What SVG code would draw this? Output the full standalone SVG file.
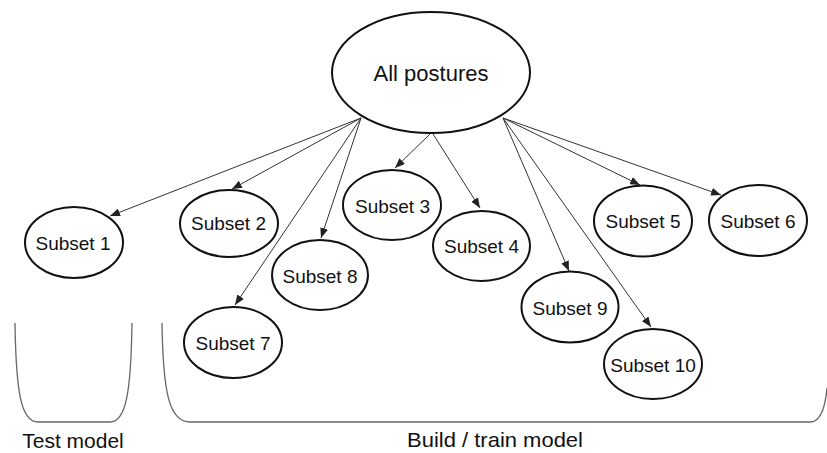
<svg xmlns="http://www.w3.org/2000/svg" width="827" height="453" viewBox="0 0 827 453">
  <style>
    .node ellipse { fill: #fff; stroke: #111; stroke-width: 2; }
    .node text { font-family: "Liberation Sans", Arial, sans-serif; font-size: 19px; fill: #111; text-anchor: middle; }
    .root text { font-size: 22px; }
    .edge { stroke: #333; stroke-width: 1; fill: none; marker-end: url(#arrow); }
    .bracket { stroke: #666; stroke-width: 1.3; fill: none; }
    .label { font-family: "Liberation Sans", Arial, sans-serif; font-size: 21px; fill: #111; text-anchor: middle; }
  </style>
  <defs>
    <marker id="arrow" markerUnits="userSpaceOnUse" markerWidth="10" markerHeight="8" viewBox="0 0 10 8" refX="10" refY="4" orient="auto">
      <path d="M0,0 L10,4 L0,8 Z" fill="#222"/>
    </marker>
  </defs>
  <rect width="827" height="453" fill="#fff"/>

  <!-- connectors from the root ellipse to each subset -->
  <g id="connectors">
    <line class="edge" x1="361" y1="118" x2="110" y2="216"/>
    <line class="edge" x1="361" y1="118" x2="232" y2="189"/>
    <line class="edge" x1="361" y1="118" x2="235" y2="305"/>
    <line class="edge" x1="361" y1="118" x2="321" y2="238"/>
    <line class="edge" x1="430" y1="134" x2="395" y2="168"/>
    <line class="edge" x1="433" y1="134" x2="480" y2="208"/>
    <line class="edge" x1="503" y1="118" x2="569" y2="271"/>
    <line class="edge" x1="503" y1="118" x2="651" y2="327"/>
    <line class="edge" x1="503" y1="118" x2="640" y2="185"/>
    <line class="edge" x1="503" y1="118" x2="721" y2="195"/>
  </g>

  <g id="all-postures" class="node root">
    <ellipse cx="431" cy="72.5" rx="99" ry="60.5"/>
    <text x="431" y="81">All postures</text>
  </g>
  <g id="subset-1" class="node"><ellipse cx="74" cy="242.5" rx="49" ry="35.5"/><text x="73" y="250">Subset 1</text></g>
  <g id="subset-2" class="node"><ellipse cx="229" cy="223.5" rx="49" ry="33.5"/><text x="228.5" y="229.5">Subset 2</text></g>
  <g id="subset-3" class="node"><ellipse cx="392" cy="205" rx="49" ry="35"/><text x="392.5" y="212.5">Subset 3</text></g>
  <g id="subset-4" class="node"><ellipse cx="481.5" cy="246" rx="48.5" ry="35"/><text x="481.5" y="253">Subset 4</text></g>
  <g id="subset-5" class="node"><ellipse cx="643" cy="221" rx="49" ry="35.5"/><text x="643" y="228">Subset 5</text></g>
  <g id="subset-6" class="node"><ellipse cx="758" cy="220.5" rx="49" ry="35.5"/><text x="758" y="227.5">Subset 6</text></g>
  <g id="subset-7" class="node"><ellipse cx="233" cy="342.5" rx="49" ry="35.5"/><text x="233" y="349.5">Subset 7</text></g>
  <g id="subset-8" class="node"><ellipse cx="320" cy="275" rx="48" ry="35"/><text x="320" y="282.5">Subset 8</text></g>
  <g id="subset-9" class="node"><ellipse cx="570" cy="307" rx="48.5" ry="35.5"/><text x="570" y="315">Subset 9</text></g>
  <g id="subset-10" class="node"><ellipse cx="653" cy="364" rx="49" ry="35"/><text x="653" y="371.5">Subset 10</text></g>

  <!-- grouping brackets with captions -->
  <g id="test-group">
    <path class="bracket" d="M15,323 C16,392 21,422 38,422 L110,422 C126,422 131,392 132,323"/>
    <text class="label" x="73" y="448">Test model</text>
  </g>
  <g id="train-group">
    <path class="bracket" d="M162,323 C163,392 169,422 190,422 L810,422 C820,422 825,410 827,388"/>
    <text class="label" x="495" y="447" textLength="176" lengthAdjust="spacingAndGlyphs">Build / train model</text>
  </g>
</svg>
